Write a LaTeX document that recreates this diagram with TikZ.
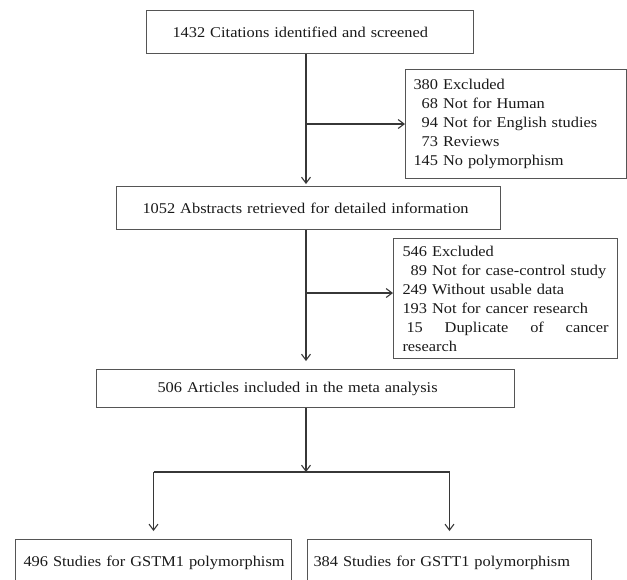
\documentclass[tikz,border=0pt]{standalone}
\usepackage{fontspec}
\setmainfont{Liberation Serif}[FakeStretch=1.1]
\usepackage{tikz}
\usetikzlibrary{arrows.meta}

\definecolor{linegray}{RGB}{55,55,55}
\definecolor{boxgray}{RGB}{85,85,85}

\tikzset{
  >={Straight Barb[length=6pt, width=9pt, line width=1.1pt]},
  box/.style={draw=boxgray, line width=1pt, anchor=north west, align=left,
    inner ysep=0pt, font=\fontsize{14.9}{19}\selectfont, text=black!90},
  flow/.style={draw=linegray, line width=1.3pt, ->},
}

\begin{document}
\begin{tikzpicture}[x=1pt, y=-1pt]
  \clip (0,0) rectangle (627,579);

  \node[box, text width=275pt, inner xsep=26pt, minimum height=43pt] (cit) at (146,10)
    {1432 Citations identified and screened};
  \node[box, text width=205pt, inner xsep=8pt, minimum height=109pt] (exA) at (405,69)
    {380 Excluded\\
     \phantom{0}68 Not for Human\\
     \phantom{0}94 Not for English studies\\
     \phantom{0}73 Reviews\\
     145 No polymorphism};

  \node[box, text width=332pt, inner xsep=26pt, minimum height=43pt] (abs) at (116,186)
    {\mbox{1052 Abstracts retrieved for detailed information}};
  \node[box, text width=206pt, inner xsep=9pt, minimum height=120pt] (exB) at (393,238)
    {546 Excluded\\
     \phantom{0}89 Not for case-control study\\
     249 Without usable data\\
     193 Not for cancer research\\
     \leavevmode\hbox to 206pt{\hspace{4pt}15\hfill Duplicate\hfill of\hfill cancer}\\
     research};

  \node[box, text width=296pt, inner xsep=61pt, minimum height=38pt] (art) at (96,369)
    {506 Articles included in the meta analysis};

  \node[box, text width=260pt, inner xsep=8pt, minimum height=46pt] (gstm) at (15,539)
    {\mbox{496 Studies for GSTM1 polymorphism}};
  \node[box, text width=272pt, inner xsep=6pt, minimum height=46pt] (gstt) at (307,539)
    {\mbox{384 Studies for GSTT1 polymorphism}};

  % main line and the split
  \coordinate (spine) at (306,0);
  \coordinate (split) at (306,472);
  \coordinate (toB) at ([yshift=5.5pt]exB.west);

  \draw[flow] (cit.south -| spine) -- ([yshift=2pt]abs.north -| spine);
  \draw[flow] (exA -| spine) -- (exA.west);
  \draw[flow] (abs.south -| spine) -- ([yshift=8pt]art.north -| spine);
  \draw[flow] (toB -| spine) -- (toB);
  \draw[flow] (art.south -| spine) -- (split);

  \draw[linegray, line width=1.3pt] (gstm |- split) -- (gstt |- split);
  \draw[flow] (gstm |- split) -- ([yshift=8pt]gstm.north);
  \draw[flow] (gstt |- split) -- ([yshift=8pt]gstt.north);
\end{tikzpicture}
\end{document}
